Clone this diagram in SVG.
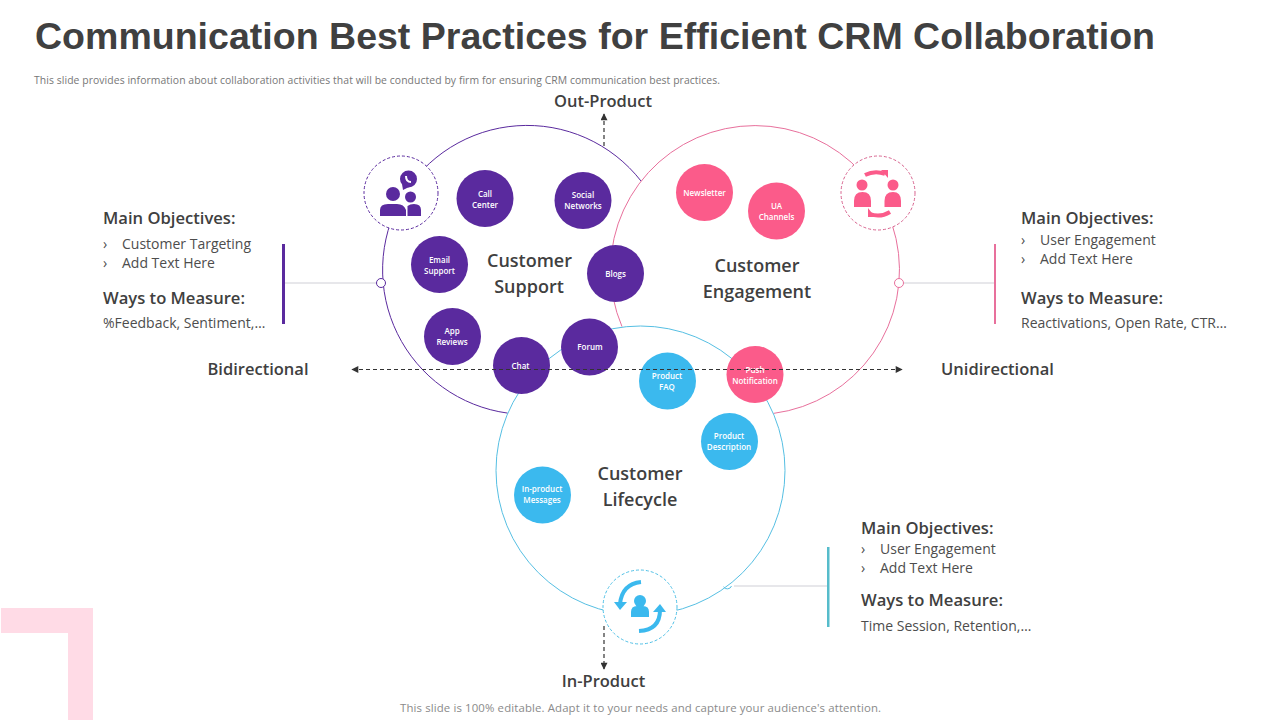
<svg xmlns="http://www.w3.org/2000/svg" width="1280" height="720" viewBox="0 0 1280 720">
<style>
text{font-family:"Open Sans","Noto Sans","Liberation Sans",sans-serif;fill:#404040}
.t{font-family:"Liberation Sans",Arial,sans-serif;font-size:37.5px;font-weight:700}
.n{font-size:8px;font-weight:600;fill:#fff;text-anchor:middle}
.big{font-size:18px;font-weight:600;text-anchor:middle}
.h{font-size:16.6px;font-weight:600}
.b{font-size:14px;fill:#4d4d4d}
.lab{font-size:16.5px;font-weight:600;text-anchor:middle}
.ring{fill:none;stroke-width:1}
.hub{fill:#fff;stroke-width:1;stroke-dasharray:3 2}
.dash{fill:none;stroke:#333;stroke-width:1.2;stroke-dasharray:4 3}
.tick{fill:none;stroke:#cfcfd6;stroke-width:1}
.pu{fill:#5a2a9e}.pk{fill:#fb5b8a}.bl{fill:#3bb9ee}
</style>
<defs>
<marker id="ah" viewBox="0 0 10 10" refX="9" refY="5" markerWidth="8" markerHeight="7" markerUnits="userSpaceOnUse" orient="auto-start-reverse"><path d="M0 0L10 5L0 10Z" fill="#333"/></marker>
</defs>
<rect width="1280" height="720" fill="#fff"/>
<path d="M1 608H93V720H68V633H1Z" fill="#ffdbe6"/>
<text class="t" x="35" y="49" textLength="1120" lengthAdjust="spacing">Communication Best Practices for Efficient CRM Collaboration</text>
<text x="34" y="84" textLength="686" style="font-size:10.4px;fill:#777">This slide provides information about collaboration activities that will be conducted by firm for ensuring CRM communication best practices.</text>
<text x="400" y="712" textLength="481" style="font-size:11.4px;fill:#8a8a8a">This slide is 100% editable. Adapt it to your needs and capture your audience's attention.</text>

<g id="rings">
<path class="ring" stroke="#5a2a9e" d="M641 181A144.5 144.5 0 1 0 507.6 413.1"/>
<path class="ring" stroke="#e8709c" d="M622 326.6A144.5 144.5 0 1 1 773.5 413.4"/>
<circle class="ring" stroke="#56bfe3" cx="640.5" cy="470.5" r="144.5"/>
</g>

<g id="connectors">
<path class="dash" d="M604 146V114" marker-end="url(#ah)"/>
<path class="dash" d="M604 626V669" marker-end="url(#ah)"/>
<path class="tick" d="M284 283H376M904 283H995M734 586H827"/>
<circle cx="381" cy="283" r="4.500" fill="#fff" stroke="#5a2a9e"/>
<circle cx="899" cy="283" r="4.500" fill="#fff" stroke="#e8709c"/>
<path d="M723.500 586.800A4.500 4.500 0 0 0 731.500 586" fill="none" stroke="#56bfe3"/>
<rect x="282" y="244" width="3" height="80" fill="#5a2a9e"/>
<rect x="994" y="244" width="2" height="80" fill="#e8709c"/>
<rect x="827" y="547" width="2.500" height="80" fill="#56bccb"/>
</g>

<g id="hub-support">
<circle class="hub" stroke="#5a2a9e" cx="401" cy="193" r="37"/>
<circle class="pu" cx="393" cy="194" r="7"/><circle class="pu" cx="410.500" cy="197" r="5.500"/>
<path class="pu" d="M380 216V210Q380 204 388 204H397Q404 204 406 210V216ZM407.500 216V206Q410 204 414 204Q421 204 421 210V216Z"/>
<circle class="pu" cx="408.500" cy="179" r="8.500"/><path class="pu" d="M402 184L403 190L409 187Z"/>
<path d="M406 176Q406 182 411 182" fill="none" stroke="#fff" stroke-width="2"/>
</g>
<g id="hub-engagement">
<circle class="hub" stroke="#d8648f" cx="878" cy="193" r="37"/>
<circle class="pk" cx="862" cy="185" r="5.500"/><circle class="pk" cx="893" cy="185" r="5.500"/>
<path class="pk" d="M854 207V201Q854 192 862.500 192Q871 192 871 201V207ZM884.500 207V201Q884.500 192 893 192Q901 192 901 201V207Z"/>
<path d="M865 175Q875 170 885 174" fill="none" stroke="#fb5b8a" stroke-width="4"/><path class="pk" d="M881 170H888V178Z"/>
<path d="M890 212Q880 218 870 214" fill="none" stroke="#fb5b8a" stroke-width="4"/><path class="pk" d="M868 208V217H875Z"/>
</g>
<g id="hub-lifecycle">
<circle class="hub" stroke="#4fc0e6" cx="640" cy="607" r="37"/>
<circle class="bl" cx="640" cy="601" r="6"/><path class="bl" d="M631 617V612Q631 606 637 606H643Q649 606 649 612V617Z"/>
<path d="M641 582Q622 584 620 604" fill="none" stroke="#3bb9ee" stroke-width="4"/><path class="bl" d="M614 602H627L620 610Z"/>
<path d="M639 631Q660 630 660 610" fill="none" stroke="#3bb9ee" stroke-width="4"/><path class="bl" d="M653 612H666L660 604Z"/>
</g>

<g id="call-center"><circle class="pu" cx="485" cy="198.500" r="28.500"/><text class="n" x="485" y="197">Call</text><text class="n" x="485" y="208">Center</text></g>
<g id="social-networks"><circle class="pu" cx="583" cy="200.500" r="28.500"/><text class="n" x="583" y="198">Social</text><text class="n" x="583" y="209">Networks</text></g>
<g id="email-support"><circle class="pu" cx="439.500" cy="264.500" r="28.500"/><text class="n" x="439.500" y="263">Email</text><text class="n" x="439.500" y="274">Support</text></g>
<g id="blogs"><circle class="pu" cx="615.500" cy="273.500" r="28.500"/><text class="n" x="615.500" y="277">Blogs</text></g>
<g id="app-reviews"><circle class="pu" cx="452.500" cy="336.500" r="28.500"/><text class="n" x="452" y="334">App</text><text class="n" x="452" y="345">Reviews</text></g>
<g id="chat"><circle class="pu" cx="521.500" cy="365.500" r="28.500"/><text class="n" x="520.500" y="369">Chat</text></g>
<g id="forum"><circle class="pu" cx="589.500" cy="347" r="28.500"/><text class="n" x="590" y="350">Forum</text></g>
<g id="product-faq"><circle class="bl" cx="667.500" cy="381" r="28.500"/><text class="n" x="667" y="379">Product</text><text class="n" x="667" y="390">FAQ</text></g>
<g id="push-notification"><circle class="pk" cx="755" cy="374.500" r="28.500"/><text class="n" x="755" y="373">Push</text><text class="n" x="755" y="384">Notification</text></g>
<g id="product-description"><circle class="bl" cx="729.500" cy="441.500" r="28.500"/><text class="n" x="729" y="439">Product</text><text class="n" x="729" y="450">Description</text></g>
<g id="in-product-messages"><circle class="bl" cx="542.500" cy="495" r="28.500"/><text class="n" x="542" y="492">In-product</text><text class="n" x="542" y="503">Messages</text></g>
<g id="newsletter"><circle class="pk" cx="704.500" cy="192.500" r="28.500"/><text class="n" x="704.500" y="196">Newsletter</text></g>
<g id="ua-channels"><circle class="pk" cx="776.500" cy="211" r="28.500"/><text class="n" x="776.500" y="209">UA</text><text class="n" x="776.500" y="220">Channels</text></g>

<g id="bidirectional-line"><path class="dash" d="M352 369.500H902" marker-start="url(#ah)" marker-end="url(#ah)"/></g>

<text class="big" x="529.500" y="267">Customer</text><text class="big" x="529" y="293">Support</text>
<text class="big" x="757" y="272">Customer</text><text class="big" x="757" y="298">Engagement</text>
<text class="big" x="640" y="480">Customer</text><text class="big" x="640" y="506">Lifecycle</text>
<text class="lab" x="603" y="107">Out-Product</text>
<text class="lab" x="603.500" y="687">In-Product</text>
<text class="lab" x="258" y="375">Bidirectional</text>
<text class="lab" x="997.500" y="375">Unidirectional</text>

<g id="left-text">
<text class="h" x="103" y="224">Main Objectives:</text>
<text class="b" x="103" y="249">›</text><text class="b" x="122" y="249">Customer Targeting</text>
<text class="b" x="103" y="268">›</text><text class="b" x="122" y="268">Add Text Here</text>
<text class="h" x="103" y="304">Ways to Measure:</text>
<text class="b" x="103" y="328">%Feedback, Sentiment,…</text>
</g>
<g id="right-text">
<text class="h" x="1021" y="224">Main Objectives:</text>
<text class="b" x="1021" y="245">›</text><text class="b" x="1040" y="245">User Engagement</text>
<text class="b" x="1021" y="264">›</text><text class="b" x="1040" y="264">Add Text Here</text>
<text class="h" x="1021" y="304">Ways to Measure:</text>
<text class="b" x="1021" y="328">Reactivations, Open Rate, CTR…</text>
</g>
<g id="bottom-text">
<text class="h" x="861" y="534">Main Objectives:</text>
<text class="b" x="861" y="554">›</text><text class="b" x="880" y="554">User Engagement</text>
<text class="b" x="861" y="573">›</text><text class="b" x="880" y="573">Add Text Here</text>
<text class="h" x="861" y="606">Ways to Measure:</text>
<text class="b" x="861" y="631">Time Session, Retention,…</text>
</g>
</svg>
